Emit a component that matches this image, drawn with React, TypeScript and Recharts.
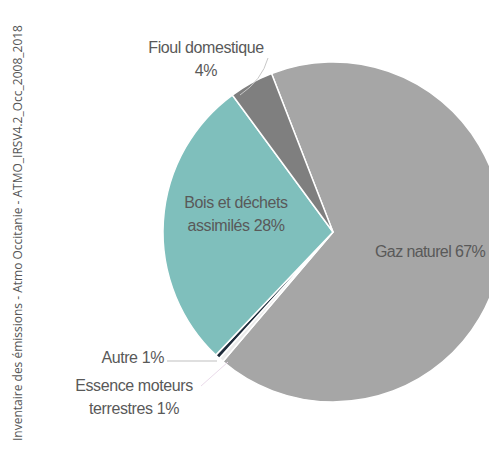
import { Cell, Pie, PieChart } from "recharts";

const SOURCES = ["Gaz naturel", "Essence moteurs terrestres", "Autre", "Bois et déchets assimilés", "Fioul domestique"];
const SHARES = [67.1, 0.45, 0.45, 27.8, 4.2];
const LABELS = ["67%", "1%", "1%", "28%", "4%"];
const COLORS = ["#a6a6a6", "#ececec", "#1e2b3a", "#7fbfbc", "#7f7f7f"];

const data = SOURCES.map((name, i) => ({ name, value: SHARES[i], pct: LABELS[i] }));

const FONT = "'Liberation Sans', Arial, sans-serif";
const TXT = "#595959";

function renderLabel(props: any) {
  const { index, payload } = props;
  const pct = payload?.pct ?? LABELS[index];
  const common = { fontFamily: FONT, fontSize: 16, fill: TXT, letterSpacing: -0.4 };
  if (index === 0) {
    return (
      <text x={375} y={257} {...common} letterSpacing={-0.6}>
        {`Gaz naturel ${pct}`}
      </text>
    );
  }
  if (index === 1) {
    return (
      <g>
        <path d="M201,386 L228,362" stroke="#eadbea" strokeWidth={1} fill="none" />
        <text x={134} y={391} textAnchor="middle" {...common}>Essence moteurs</text>
        <text x={134} y={414} textAnchor="middle" {...common}>{`terrestres ${pct}`}</text>
      </g>
    );
  }
  if (index === 2) {
    return (
      <g>
        <path d="M167,361 L217,361" stroke="#bfbfbf" strokeWidth={1} fill="none" />
        <text x={164} y={363} textAnchor="end" {...common}>{`Autre ${pct}`}</text>
      </g>
    );
  }
  if (index === 3) {
    return (
      <g>
        <text x={236} y={208} textAnchor="middle" {...common}>Bois et déchets</text>
        <text x={236} y={231} textAnchor="middle" {...common}>{`assimilés ${pct}`}</text>
      </g>
    );
  }
  return (
    <g>
      <path d="M268,58 Q262,80 240,95" stroke="#c8c8c8" strokeWidth={1} fill="none" />
      <text x={206} y={53} textAnchor="middle" {...common}>Fioul domestique</text>
      <text x={206} y={76} textAnchor="middle" {...common}>{pct}</text>
    </g>
  );
}

export default function App() {
  return (
    <div style={{ position: "absolute", left: 0, top: 0, width: 489, height: 459, background: "#fff", overflow: "hidden" }}>
      <PieChart width={489} height={459} margin={{ top: 0, right: 0, bottom: 0, left: 0 }}>
        <Pie
          data={data}
          dataKey="value"
          nameKey="name"
          cx={333}
          cy={232}
          outerRadius={170}
          startAngle={111.2}
          endAngle={-248.8}
          stroke="#ffffff"
          strokeWidth={1.5}
          label={renderLabel}
          labelLine={false}
          isAnimationActive={false}
        >
          {data.map((entry, index) => (
            <Cell key={`cell-${index}`} fill={COLORS[index % COLORS.length]} />
          ))}
        </Pie>
      </PieChart>
      <div
        style={{
          position: "absolute",
          left: 10,
          top: 441,
          transform: "rotate(-90deg)",
          transformOrigin: "0 0",
          whiteSpace: "nowrap",
          fontFamily: "'Open Sans', sans-serif",
          fontSize: 12,
          color: "#555",
          lineHeight: "16px",
        }}
      >
        Inventaire des émissions - Atmo Occitanie - ATMO_IRSV4.2_Occ_2008_2018
      </div>
    </div>
  );
}
